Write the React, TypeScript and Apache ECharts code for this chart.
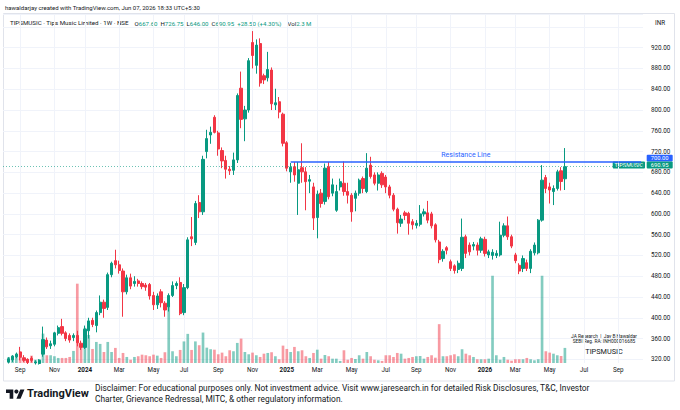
import React, { useEffect, useRef } from 'react';
import * as echarts from 'echarts';

// Weekly bars, first bar = week of 2023-08-14, last bar = week of 2026-06-01
const firstWeek = '2023-08-14';
const open = [
  315, 319, 325, 334, 323, 320, 322, 313, 312, 330, 357, 346, 349, 370, 383, 371, 366, 362, 366, 351,
  343, 375, 395, 385, 410, 430, 420, 483, 510, 502, 490, 450, 477, 466, 471, 466, 463, 464, 443, 425,
  450, 428, 421, 443, 462, 468, 410, 458, 556, 545, 622, 604, 720, 752, 786, 756, 722, 703, 686, 684,
  704, 842, 783, 800, 930, 886, 928, 866, 862, 877, 810, 816, 792, 737, 681, 691, 659, 689, 681, 663,
  652, 593, 640, 624, 691, 640, 607, 652, 659, 643, 636, 630, 640, 668, 643, 694, 675, 659, 678, 671,
  652, 636, 609, 582, 602, 601, 585, 578, 580, 600, 602, 600, 579, 546, 514, 535, 508, 500, 493, 495,
  556, 540, 538, 540, 530, 551, 521, 520, 520, 521, 559, 577, 556, 521, 501, 495, 506, 495, 525, 525,
  588, 670, 652, 643, 649, 683, 667.6,
];
const high = [
  324, 328, 333, 344, 328, 322, 326, 318, 320, 383, 362, 356, 373, 385, 398, 374, 370, 370, 375, 356,
  385, 400, 400, 414, 443, 435, 487, 508, 531, 510, 495, 483, 485, 480, 475, 470, 467, 467, 450, 447,
  455, 432, 447, 470, 470, 478, 465, 555, 594, 625, 636, 712, 762, 768, 790, 760, 728, 712, 692, 718,
  832, 874, 808, 900, 952, 936, 938, 870, 912, 882, 841, 825, 795, 740, 698, 700, 700, 736, 690, 675,
  660, 645, 648, 697, 700, 668, 656, 668, 701, 660, 640, 645, 668, 672, 717, 710, 680, 680, 682, 675,
  656, 640, 612, 598, 606, 604, 590, 588, 617, 610, 625, 604, 582, 550, 532, 538, 512, 503, 510, 591,
  560, 545, 546, 545, 556, 556, 531, 532, 530, 585, 582, 595, 560, 525, 505, 520, 512, 532, 545, 590,
  694, 675, 660, 655, 685, 690, 726.75,
];
const low = [
  312, 315, 322, 318, 315, 311, 314, 310, 310, 325, 340, 340, 345, 366, 366, 355, 352, 355, 345, 338,
  340, 360, 382, 372, 405, 400, 415, 478, 495, 485, 402, 445, 455, 460, 460, 455, 452, 435, 415, 417,
  420, 402, 412, 440, 455, 405, 405, 455, 538, 540, 592, 598, 707, 735, 755, 712, 688, 668, 675, 675,
  698, 765, 740, 795, 880, 870, 845, 850, 855, 800, 800, 784, 730, 682, 660, 662, 598, 660, 607, 640,
  569, 553, 612, 618, 628, 634, 604, 645, 635, 620, 585, 605, 635, 640, 640, 668, 655, 645, 650, 640,
  630, 605, 562, 575, 588, 560, 570, 572, 576, 595, 582, 572, 545, 505, 508, 522, 490, 485, 486, 490,
  515, 520, 530, 520, 525, 518, 515, 512, 515, 518, 555, 550, 534, 505, 484, 488, 490, 486, 520, 522,
  585, 640, 620, 617, 645, 645, 646,
];
const close = [
  321, 326, 330, 324, 318, 314, 318, 315, 318, 358, 344, 350, 371, 381, 370, 360, 357, 366, 352, 343,
  378, 394, 387, 410, 430, 418, 483, 505, 502, 491, 450, 477, 461, 470, 466, 460, 459, 442, 425, 442,
  429, 415, 443, 462, 466, 408, 458, 550, 552, 620, 604, 705, 745, 757, 757, 725, 702, 686, 683, 704,
  828, 782, 800, 895, 905, 925, 852, 858, 878, 812, 814, 796, 736, 688, 690, 675, 685, 681, 662, 666,
  592, 638, 620, 688, 633, 656, 643, 662, 643, 636, 604, 640, 665, 649, 688, 672, 659, 675, 656, 652,
  636, 609, 583, 590, 597, 582, 579, 582, 600, 604, 588, 577, 550, 512, 528, 530, 495, 491, 505, 555,
  524, 527, 541, 530, 552, 524, 527, 526, 524, 559, 577, 556, 538, 510, 490, 514, 495, 528, 540, 588,
  665, 649, 646, 649, 681, 662.45, 690.95,
];
// volume in millions of shares
const volume = [
  0.92, 1.12, 1.42, 1.79, 0.77, 0.61, 1.12, 0.5, 0.61, 4.48, 1.18, 1.18, 1.03, 0.77, 0.77, 0.77, 0.92, 1.84, 12.09, 2.3,
  5.36, 4.28, 2.14, 3.21, 2.91, 1.68, 3.21, 1.68, 2.3, 0.77, 1.53, 0.92, 0.5, 0.92, 1.03, 1.27, 1.18, 1.03, 1.27, 1.12,
  0.77, 1.64, 9.18, 1.79, 1.03, 1.99, 3.29, 4.44, 1.99, 3.29, 2.71, 4.64, 2.34, 2.1, 2.03, 1.33, 1.58, 1.03, 1.94, 1.79,
  3.06, 3.72, 1.68, 1.33, 1.58, 1.18, 0.92, 1.42, 1.53, 1.64, 1.03, 0.57, 2.65, 2.14, 1.68, 2.45, 1.79, 1.94, 1.03, 0.77,
  1.53, 2.03, 0.66, 1.22, 1.03, 0.66, 0.66, 0.31, 1.94, 0.5, 0.77, 0.61, 1.18, 0.66, 1.68, 1.03, 0.5, 0.41, 0.31, 1.18,
  1.18, 0.92, 1.53, 1.42, 0.66, 0.77, 0.92, 1.03, 1.07, 0.66, 0.92, 1.18, 0.81, 5.92, 1.03, 1.03, 1.18, 1.33, 1.03, 2.1,
  1.42, 1.18, 0.92, 0.57, 0.57, 0.57, 0.66, 13.3, 1.18, 0.5, 0.92, 0.5, 0.35, 0.57, 0.57, 0.57, 0.77, 0.57, 0.41, 0.57,
  13.3, 1.79, 1.58, 1.42, 1.18, 1.07, 2.3,
];
const resistanceStart = '2025-01-13';
const resistanceLevel = 700;
const monthNames = ['Jan', 'Feb', 'Mar', 'Apr', 'May', 'Jun', 'Jul', 'Aug', 'Sep', 'Oct', 'Nov', 'Dec'];
const disclaimer1 = 'Disclaimer: For educational purposes only. Not investment advice. Visit www.jaresearch.in for detailed Risk Disclosures, T&C, Investor';
const disclaimer2 = 'Charter, Grievance Redressal, MITC, & other regulatory information.';

const LEAD = 1;
const TRAIL = 20;
const DAY = 86400000;

const TEXT = '#131722';
const UP = '#089981';
const DOWN = '#f23645';
const BLUE = '#2962ff';
const GRID = '#f0f3fa';
const FONT = 'Roboto, "Noto Sans", sans-serif';

echarts.graphic.registerShape(
  'tvlogo',
  echarts.graphic.extendPath('M14 22H7V11H0V4h14v18zM28 22h-8l7.5-18h8L28 22z', {}) as any
);

function buildWeeks(): string[] {
  const p = firstWeek.split('-').map(Number);
  const start = Date.UTC(p[0], p[1] - 1, p[2]) - LEAD * 7 * DAY;
  const n = LEAD + open.length + TRAIL;
  const out: string[] = [];
  for (let i = 0; i < n; i++) out.push(new Date(start + i * 7 * DAY).toISOString().slice(0, 10));
  return out;
}

export default function App() {
  const ref = useRef<HTMLDivElement>(null);

  useEffect(() => {
    document.body.style.margin = '0';
    if (!ref.current) return;
    const chart = echarts.init(ref.current, undefined, { renderer: 'svg' });

    const weeks = buildWeeks();
    const isLabel = (i: number) => {
      const s = weeks[i];
      if (!s) return false;
      const m = +s.slice(5, 7);
      const d = +s.slice(8, 10);
      return d <= 7 && m % 2 === 1;
    };
    const fmt = (v: string) => {
      const m = +v.slice(5, 7);
      if (m === 1) return '{y|' + v.slice(0, 4) + '}';
      return monthNames[m - 1];
    };

    const candles = weeks.map((_, i) => {
      const k = i - LEAD;
      if (k < 0 || k >= open.length) return '-';
      return [open[k], close[k], low[k], high[k]];
    });
    const vols = weeks.map((_, i) => {
      const k = i - LEAD;
      if (k < 0 || k >= volume.length) return '-';
      return {
        value: volume[k],
        itemStyle: { color: close[k] >= open[k] ? 'rgba(8,153,129,0.5)' : 'rgba(242,54,69,0.5)' },
      };
    });

    const n = close.length;
    const lastC = close[n - 1];
    const prevC = close[n - 2];
    const chg = lastC - prevC;
    const pct = (chg / prevC) * 100;
    const volMax = Math.max(...volume) * 4.0;

    const header =
      '{n|TIPSMUSIC · Tips Music Limited · 1W · NSE}  ' +
      '{k|O}{v|' + open[n - 1].toFixed(2) + '} ' +
      '{k|H}{v|' + high[n - 1].toFixed(2) + '} ' +
      '{k|L}{v|' + low[n - 1].toFixed(2) + '} ' +
      '{k|C}{v|' + lastC.toFixed(2) + '} ' +
      '{v|' + (chg >= 0 ? '+' : '') + chg.toFixed(2) + ' (' + (pct >= 0 ? '+' : '') + pct.toFixed(2) + '%)}  ' +
      '{k|Vol}{v|' + volume[n - 1].toFixed(1) + ' M}';

    const option: any = {
      animation: false,
      textStyle: { fontFamily: FONT },
      grid: [
        { left: 3, right: 37, top: 14, bottom: 29.9 },
        { left: 3, right: 37, top: 14, bottom: 47 },
      ],
      xAxis: [
        { type: 'category', gridIndex: 0, data: weeks, boundaryGap: true, show: false },
        {
          type: 'category',
          gridIndex: 1,
          data: weeks,
          boundaryGap: true,
          axisLine: { show: false },
          axisTick: { show: false, alignWithLabel: true, interval: (i: number) => isLabel(i) },
          axisLabel: {
            interval: (i: number) => isLabel(i),
            formatter: fmt,
            fontSize: 6.3,
            color: TEXT,
            margin: 4,
            fontFamily: FONT,
            rich: { y: { fontWeight: 'bold', fontSize: 6.3, color: TEXT, fontFamily: FONT } },
          },
          splitLine: {
            show: true,
            alignWithLabel: true,
            interval: (i: number) => isLabel(i),
            lineStyle: { color: GRID, width: 1 },
          },
        },
      ],
      yAxis: [
        {
          type: 'value',
          gridIndex: 0,
          position: 'right',
          min: 280,
          max: 984.9,
          interval: 40,
          axisLine: { show: false },
          axisTick: { show: false },
          axisLabel: {
            margin: 8,
            fontSize: 6.3,
            lineHeight: 6,
            color: TEXT,
            fontFamily: FONT,
            formatter: (v: number) => (v < 320 || v > 920 ? '' : v.toFixed(2)),
          },
          splitLine: { show: true, showMinLine: false, lineStyle: { color: GRID, width: 1 } },
        },
        {
          type: 'value',
          gridIndex: 1,
          min: 0,
          max: volMax,
          show: false,
          splitLine: { show: false },
        },
      ],
      series: [
        {
          type: 'bar',
          xAxisIndex: 1,
          yAxisIndex: 1,
          data: vols,
          barWidth: '70%',
          silent: true,
        },
        {
          type: 'candlestick',
          xAxisIndex: 0,
          yAxisIndex: 0,
          data: candles,
          barWidth: '72%',
          silent: true,
          itemStyle: {
            color: UP,
            color0: DOWN,
            borderColor: UP,
            borderColor0: DOWN,
            borderWidth: 1,
          },
          markLine: {
            silent: true,
            symbol: ['none', 'none'],
            animation: false,
            lineStyle: { color: 'rgba(8,153,129,0.75)', width: 1, type: [1, 2] },
            data: [
              [
                {
                  coord: [resistanceStart, resistanceLevel],
                  lineStyle: { color: BLUE, width: 1.5, type: 'solid' },
                  label: {
                    show: true,
                    formatter: 'Resistance Line',
                    position: 'insideMiddleTop',
                    color: BLUE,
                    fontSize: 7,
                    fontFamily: FONT,
                    distance: 3,
                  },
                },
                { coord: [weeks[weeks.length - 1], resistanceLevel] },
              ],
              {
                yAxis: lastC,
                lineStyle: { color: 'rgba(8,153,129,0.75)', width: 0.8, type: [1, 2] },
                label: { show: false },
              },
            ],
          },
        },
      ],
      graphic: [
        {
          type: 'rect',
          silent: true,
          shape: { x: 3.5, y: 13.5, width: 671, height: 367.5 },
          style: { fill: 'none', stroke: '#e0e3eb', lineWidth: 1 },
        },
        {
          type: 'text',
          x: 5,
          y: 7.3,
          style: {
            text: 'hawaldarjay created with TradingView.com, Jun 07, 2026 18:33 UTC+5:30',
            fill: TEXT,
            fontSize: 6,
            fontFamily: FONT,
            verticalAlign: 'middle',
          },
        },
        {
          type: 'text',
          x: 10,
          y: 23.3,
          style: {
            text: header,
            fontFamily: FONT,
            verticalAlign: 'middle',
            rich: {
              n: { fill: TEXT, fontSize: 6.2, fontFamily: FONT },
              k: { fill: TEXT, fontSize: 6.1, fontFamily: FONT },
              v: { fill: UP, fontSize: 6.1, fontFamily: FONT },
            },
          },
        },
        {
          type: 'text',
          x: 660,
          y: 23.3,
          style: { text: 'INR', fill: TEXT, fontSize: 6.3, fontFamily: FONT, align: 'center', verticalAlign: 'middle' },
        },
        // price labels on the axis
        { type: 'rect', shape: { x: 646.7, y: 154.8, width: 26, height: 6.6, r: 1 }, style: { fill: BLUE } },
        {
          type: 'text',
          x: 659.7,
          y: 158.2,
          style: { text: resistanceLevel.toFixed(2), fill: '#ffffff', fontSize: 5.8, lineHeight: 6, fontFamily: FONT, align: 'center', verticalAlign: 'middle' },
        },
        { type: 'rect', shape: { x: 646.7, y: 161.6, width: 26, height: 7, r: 1 }, style: { fill: UP } },
        {
          type: 'text',
          x: 659.7,
          y: 165.1,
          style: { text: lastC.toFixed(2), fill: '#ffffff', fontSize: 5.8, lineHeight: 6, fontFamily: FONT, align: 'center', verticalAlign: 'middle' },
        },
        { type: 'rect', shape: { x: 612.7, y: 161.6, width: 32.3, height: 7, r: 1 }, style: { fill: UP } },
        {
          type: 'text',
          x: 628.8,
          y: 165.1,
          style: { text: 'TIPSMUSIC', fill: '#ffffff', fontSize: 5.6, lineHeight: 6, fontFamily: FONT, align: 'center', verticalAlign: 'middle' },
        },
        // annotation
        {
          type: 'text',
          x: 604,
          y: 336.3,
          style: { text: 'JA Research  |  Jay B Hawaldar', fill: TEXT, fontSize: 4.8, fontFamily: FONT, align: 'center', verticalAlign: 'middle' },
        },
        {
          type: 'text',
          x: 604,
          y: 341.6,
          style: { text: 'SEBI Reg. RA: INH000016685', fill: TEXT, fontSize: 4.8, fontFamily: FONT, align: 'center', verticalAlign: 'middle' },
        },
        {
          type: 'text',
          x: 604,
          y: 351.2,
          style: { text: 'TIPSMUSIC', fill: TEXT, fontSize: 7.3, fontFamily: FONT, align: 'center', verticalAlign: 'middle' },
        },
        // footer
        { type: 'tvlogo', x: 6, y: 387.4, scaleX: 0.52, scaleY: 0.52, style: { fill: TEXT } },
        { type: 'circle', shape: { cx: 6 + 20 * 0.52, cy: 387.4 + 8 * 0.52, r: 4 * 0.52 }, style: { fill: TEXT } },
        {
          type: 'text',
          x: 27,
          y: 393.5,
          style: { text: 'TradingView', fill: TEXT, fontSize: 11, fontWeight: 'bold', fontFamily: FONT, verticalAlign: 'middle' },
        },
        {
          type: 'text',
          x: 95,
          y: 388.2,
          style: { text: disclaimer1, fill: TEXT, fontSize: 8.4, fontWeight: 'normal', fontFamily: FONT, verticalAlign: 'middle' },
        },
        {
          type: 'text',
          x: 95,
          y: 399,
          style: { text: disclaimer2, fill: TEXT, fontSize: 8.4, fontWeight: 'normal', fontFamily: FONT, verticalAlign: 'middle' },
        },
      ],
    };

    chart.setOption(option);
    return () => chart.dispose();
  }, []);

  return <div ref={ref} style={{ width: 680, height: 410, background: '#ffffff' }} />;
}
